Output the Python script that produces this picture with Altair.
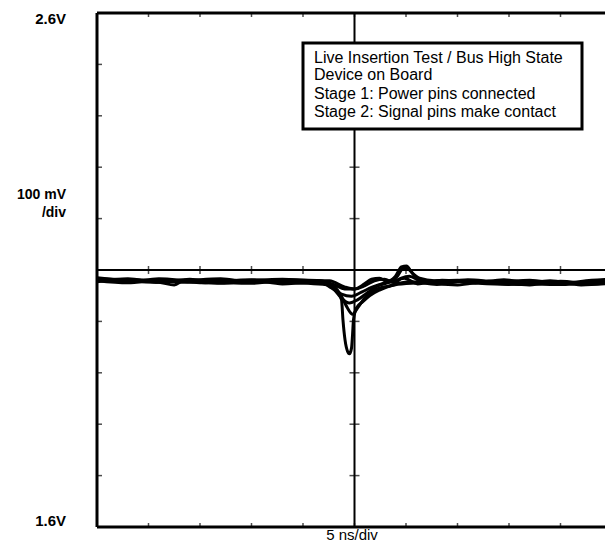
import altair as alt
import pandas as pd

# ---- scope settings ----
T_DOMAIN = [-25, 25]          # ns (5 ns/div, 10 div)
V_DOMAIN = [1.6, 2.6]         # V (100 mV/div, 10 div)
div_times = [-20, -15, -10, -5, 5, 10, 15, 20]
div_volts = [1.7, 1.8, 1.9, 2.0, 2.2, 2.3, 2.4, 2.5]
all_div_times = [-20, -15, -10, -5, 0, 5, 10, 15, 20]
all_div_volts = [1.7, 1.8, 1.9, 2.0, 2.1, 2.2, 2.3, 2.4, 2.5]
center_t = [0]
center_v = [2.1]

# ---- traces (time in ns, level in V) ----
tA = [-25, -22, -19, -16, -13, -10, -7, -4.5, -2.43, -1.65, -1.26, -1.12, -0.92, -0.68, -0.49, -0.29, -0.19, -0.10, 0.19, 0.78, 1.46, 2.43, 3.88, 6.31, 9, 12, 15, 18, 21, 25]
vA = [2.083, 2.081, 2.079, 2.076, 2.080, 2.077, 2.076, 2.074, 2.071, 2.057, 2.042, 2.003, 1.964, 1.942, 1.937, 1.948, 1.974, 2.003, 2.026, 2.038, 2.050, 2.061, 2.071, 2.075, 2.079, 2.074, 2.072, 2.077, 2.074, 2.078]

tB = [-25, -22, -19, -16, -13, -10, -7, -4.5, -2.43, -1.65, -1.17, -0.68, -0.19, 0.29, 0.97, 1.94, 3.40, 5.34, 8, 11, 14, 17, 20, 23, 25]
vB = [2.077, 2.083, 2.076, 2.082, 2.075, 2.080, 2.073, 2.075, 2.073, 2.061, 2.045, 2.026, 2.014, 2.026, 2.045, 2.061, 2.069, 2.077, 2.072, 2.079, 2.076, 2.071, 2.078, 2.073, 2.075]

tC = [-25, -22, -19, -16, -13, -10, -7, -4.5, -2.91, -1.94, -1.26, -0.49, 0.29, 1.07, 2.23, 3.59, 4.85, 6.12, 8.5, 11.5, 14.5, 17.5, 20.5, 23.5, 25]
vC = [2.080, 2.077, 2.083, 2.079, 2.076, 2.074, 2.079, 2.078, 2.075, 2.061, 2.045, 2.036, 2.042, 2.053, 2.069, 2.077, 2.084, 2.073, 2.080, 2.075, 2.081, 2.073, 2.072, 2.079, 2.081]

tD = [-25, -22, -19, -17.5, -16.5, -15, -13, -10, -7, -4.5, -3.40, -2.23, -1.26, -0.29, 0.68, 1.65, 2.91, 4.17, 4.76, 5.34, 6.12, 7.28, 10, 13, 16, 19, 22, 25]
vD = [2.081, 2.078, 2.076, 2.071, 2.080, 2.075, 2.078, 2.081, 2.079, 2.077, 2.077, 2.065, 2.053, 2.049, 2.057, 2.066, 2.075, 2.088, 2.104, 2.100, 2.082, 2.076, 2.071, 2.078, 2.073, 2.079, 2.071, 2.074]

tE = [-25, -22, -19, -16, -13, -10, -7, -4.5, -3.40, -1.94, -0.97, 0, 0.97, 1.94, 2.91, 3.88, 4.56, 5.34, 6.31, 8, 11, 14, 17, 20, 23, 25]
vE = [2.085, 2.079, 2.077, 2.080, 2.083, 2.076, 2.081, 2.079, 2.079, 2.071, 2.063, 2.063, 2.069, 2.079, 2.082, 2.075, 2.084, 2.088, 2.079, 2.074, 2.081, 2.077, 2.080, 2.074, 2.080, 2.082]

tF = [-25, -22, -19, -16, -13, -10, -7, -4.5, -2.43, -0.97, 0, 0.97, 1.65, 2.43, 3.20, 3.98, 4.56, 5.05, 5.53, 6.31, 7.77, 10, 13, 16, 19, 22, 25]
vF = [2.079, 2.075, 2.081, 2.077, 2.074, 2.079, 2.082, 2.080, 2.079, 2.067, 2.063, 2.073, 2.082, 2.084, 2.077, 2.088, 2.106, 2.108, 2.096, 2.084, 2.079, 2.080, 2.075, 2.072, 2.076, 2.073, 2.076]

traces = {"A": (tA, vA), "B": (tB, vB), "C": (tC, vC), "D": (tD, vD), "E": (tE, vE), "F": (tF, vF)}

box_lines = [
    "Live Insertion Test / Bus High State",
    "Device on Board",
    "Stage 1: Power pins connected",
    "Stage 2: Signal pins make contact",
]

# ---- tables ----
rows = []
for name, (ts, vs) in traces.items():
    for i, (t, v) in enumerate(zip(ts, vs)):
        rows.append({"trace": name, "t": t, "v": v, "i": i})
df = pd.DataFrame(rows)

W, H = 515, 514
FONT = "Liberation Sans"

xs = alt.Scale(domain=T_DOMAIN, nice=False, zero=False)
ys = alt.Scale(domain=V_DOMAIN, nice=False, zero=False)
X = lambda f: alt.X(f, type="quantitative", scale=xs, axis=None)
Y = lambda f: alt.Y(f, type="quantitative", scale=ys, axis=None)

lines = alt.Chart(df).mark_line(color="black", strokeWidth=3, strokeJoin="round", interpolate="monotone").encode(
    x=X("t"), y=Y("v"), detail="trace:N", order="i:Q"
)

hrule = alt.Chart(pd.DataFrame({"v": center_v})).mark_rule(color="black", strokeWidth=2).encode(y=Y("v"))
vrule = alt.Chart(pd.DataFrame({"t": center_t})).mark_rule(color="black", strokeWidth=2).encode(x=X("t"))

# division ticks on the centre lines
ticks_h = alt.Chart(pd.DataFrame({"t": div_times, "v": center_v * len(div_times)})).mark_tick(
    orient="vertical", color="black", size=8, thickness=1.5).encode(x=X("t"), y=Y("v"))
ticks_v = alt.Chart(pd.DataFrame({"t": center_t * len(div_volts), "v": div_volts})).mark_tick(
    orient="horizontal", color="black", size=10, thickness=1.5).encode(x=X("t"), y=Y("v"))

# division ticks on the frame (clipped so only the inner half shows)
frame_t = pd.DataFrame({"t": all_div_times * 2,
                        "v": [V_DOMAIN[0]] * len(all_div_times) + [V_DOMAIN[1]] * len(all_div_times)})
frame_v = pd.DataFrame({"t": [T_DOMAIN[0]] * len(all_div_volts) + [T_DOMAIN[1]] * len(all_div_volts),
                        "v": all_div_volts * 2})
fticks_x = alt.Chart(frame_t).mark_tick(orient="vertical", color="black", size=8, thickness=1.5, clip=True).encode(
    x=X("t"), y=Y("v"))
fticks_y = alt.Chart(frame_v).mark_tick(orient="horizontal", color="black", size=10, thickness=1.5, clip=True).encode(
    x=X("t"), y=Y("v"))

# plot frame: left, top and bottom edges (right edge lies at the page edge)
frame_left = alt.Chart(pd.DataFrame({"t": [T_DOMAIN[0]]})).mark_rule(color="black", strokeWidth=3).encode(x=X("t"))
frame_tb = alt.Chart(pd.DataFrame({"v": V_DOMAIN})).mark_rule(color="black", strokeWidth=3).encode(y=Y("v"))

# annotation box
box = alt.Chart(pd.DataFrame({"a": [0]})).mark_rect(fill="white", stroke="black", strokeWidth=3).encode(
    x=alt.value(206), x2=alt.value(485), y=alt.value(30), y2=alt.value(116))


def label(txt, x, y, align="center", size=14, weight="normal"):
    return alt.Chart(pd.DataFrame({"txt": [txt]})).mark_text(
        align=align, baseline="middle", font=FONT, fontSize=size, fontWeight=weight, color="black").encode(
        text="txt:N", x=alt.value(x), y=alt.value(y))


box_rows_y = [45, 62, 81, 99]
box_text = [label(t, 217, y, align="left", size=16) for t, y in zip(box_lines, box_rows_y)]

labels = [
    label("2.6V", -31, 6, align="right", size=15, weight="bold"),
    label("100 mV", -31, 182, align="right", size=14, weight="bold"),
    label("/div", -31, 200, align="right", size=14, weight="bold"),
    label("1.6V", -31, 508, align="right", size=15, weight="bold"),
    label("5 ns/div", 255, 522, size=15),
]

chart = alt.layer(
    hrule, vrule, ticks_h, ticks_v, fticks_x, fticks_y, lines, frame_left, frame_tb,
    box, *box_text, *labels
).properties(
    width=W, height=H,
    autosize=alt.AutoSizeParams(type="none"),
    padding={"left": 89, "top": 5, "right": -7, "bottom": 15},
).configure_view(strokeWidth=0).configure(background="white")

chart.save("out.html", embed_options={"renderer": "svg", "actions": False})
